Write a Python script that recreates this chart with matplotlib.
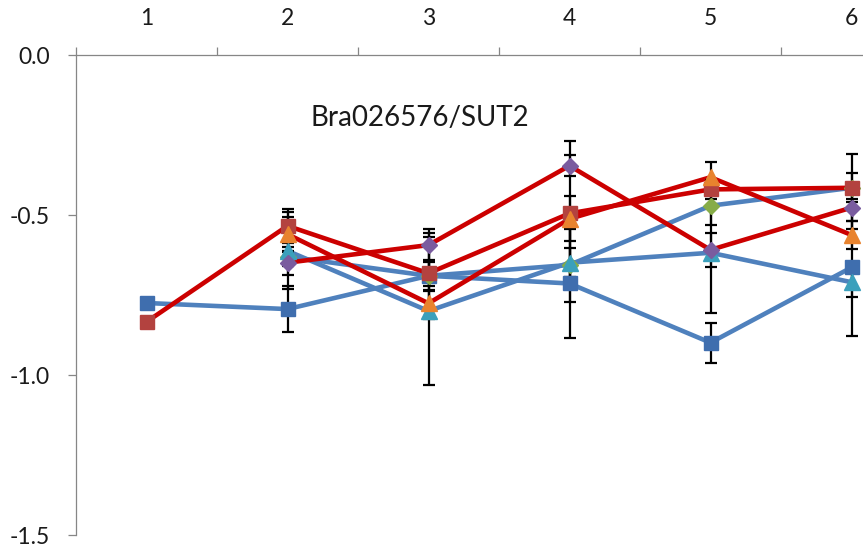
import matplotlib
matplotlib.use("Agg")
import matplotlib.pyplot as plt
from matplotlib.ticker import FixedLocator, FixedFormatter

plt.rcParams["font.family"] = ["Lato", "DejaVu Sans"]
plt.rcParams["axes.unicode_minus"] = False

# Developmental stages on the category axis
stages = [1, 2, 3, 4, 5, 6]
stage_labels = ["1", "2", "3", "4", "5", "6"]

y_ticks = [0.0, -0.5, -1.0, -1.5]
y_tick_labels = ["0.0", "-0.5", "-1.0", "-1.5"]

title_text = "Bra026576/SUT2"

# Blue group
blue_square = [-0.775, -0.794, -0.690, -0.714, -0.899, -0.664]
blue_square_err = [0.0, 0.072, 0.044, 0.169, 0.063, 0.215]

green_diamond = [None, -0.630, -0.690, -0.656, -0.471, -0.415]
green_diamond_err = [0.0, 0.030, 0.135, 0.115, 0.060, 0.105]

cyan_triangle = [None, -0.612, -0.800, -0.649, -0.618, -0.710]
cyan_triangle_err = [0.0, 0.120, 0.230, 0.045, 0.188, 0.045]

# Red group
red_square = [-0.834, -0.534, -0.682, -0.495, -0.420, -0.415]
red_square_err = [0.0, 0.052, 0.040, 0.227, 0.030, 0.045]

purple_diamond = [None, -0.649, -0.594, -0.346, -0.609, -0.477]
purple_diamond_err = [0.0, 0.038, 0.049, 0.032, 0.054, 0.067]

orange_triangle = [None, -0.560, -0.776, -0.512, -0.382, -0.5625]
orange_triangle_err = [0.0, 0.055, 0.040, 0.070, 0.047, 0.044]

BLUE_LINE = "#4F81BD"
RED_LINE = "#CC0000"

series = [
    (blue_square, blue_square_err, BLUE_LINE, "s", "#3F6EAE", 10.5),
    (green_diamond, green_diamond_err, BLUE_LINE, "D", "#86AC48", 8.6),
    (cyan_triangle, cyan_triangle_err, BLUE_LINE, "^", "#3BA0BC", 11),
    (red_square, red_square_err, RED_LINE, "s", "#B3423F", 10.5),
    (purple_diamond, purple_diamond_err, RED_LINE, "D", "#7A5C9F", 8.6),
    (orange_triangle, orange_triangle_err, RED_LINE, "^", "#E8832E", 11),
]

fig = plt.figure(figsize=(8.63, 5.52), dpi=100)
ax = fig.add_axes([76 / 863, 17 / 552, 846 / 863, 480 / 552])

for k, (vals, errs, lcol, mk, mcol, ms) in enumerate(series):
    xs = [x for x, v in zip(stages, vals) if v is not None]
    ys = [v for v in vals if v is not None]
    ax.plot(xs, ys, color=lcol, lw=3.3, zorder=2 + k * 0.01,
            solid_joinstyle="round", solid_capstyle="round")
    ex = [x for x, v, e in zip(stages, vals, errs) if v is not None and e > 0]
    ey = [v for v, e in zip(vals, errs) if v is not None and e > 0]
    ee = [e for v, e in zip(vals, errs) if v is not None and e > 0]
    ax.errorbar(ex, ey, yerr=ee, fmt="none", ecolor="black", elinewidth=1.6,
                capsize=4.3, capthick=1.6, zorder=3)
    ax.plot(xs, ys, linestyle="none", marker=mk, markersize=ms,
            markerfacecolor=mcol, markeredgecolor=mcol, zorder=4 + k * 0.01)

ax.text(2.94, -0.197, title_text, ha="center", va="center",
        fontsize=20, color="#1a1a1a")

ax.set_xlim(0.5, 6.5)
ax.set_ylim(-1.5, 0.0)

axis_gray = "#868686"
for side in ("bottom", "right"):
    ax.spines[side].set_visible(False)
for side in ("top", "left"):
    ax.spines[side].set_color(axis_gray)
    ax.spines[side].set_linewidth(0.9)

ax.xaxis.tick_top()
ax.xaxis.set_major_locator(FixedLocator(stages))
ax.xaxis.set_major_formatter(FixedFormatter(stage_labels))
ax.xaxis.set_minor_locator(FixedLocator([0.5, 1.5, 2.5, 3.5, 4.5, 5.5, 6.5]))
ax.tick_params(axis="x", which="major", length=0, pad=19,
               labelsize=16.5, labelcolor="#1a1a1a")
ax.tick_params(axis="x", which="minor", direction="out", length=6,
               width=0.9, color=axis_gray)

ax.yaxis.set_major_locator(FixedLocator(y_ticks))
ax.yaxis.set_major_formatter(FixedFormatter(y_tick_labels))
ax.tick_params(axis="y", which="major", direction="out", length=6,
               width=0.9, color=axis_gray, pad=13,
               labelsize=16.5, labelcolor="#1a1a1a")

fig.savefig("out.png", dpi=100)
